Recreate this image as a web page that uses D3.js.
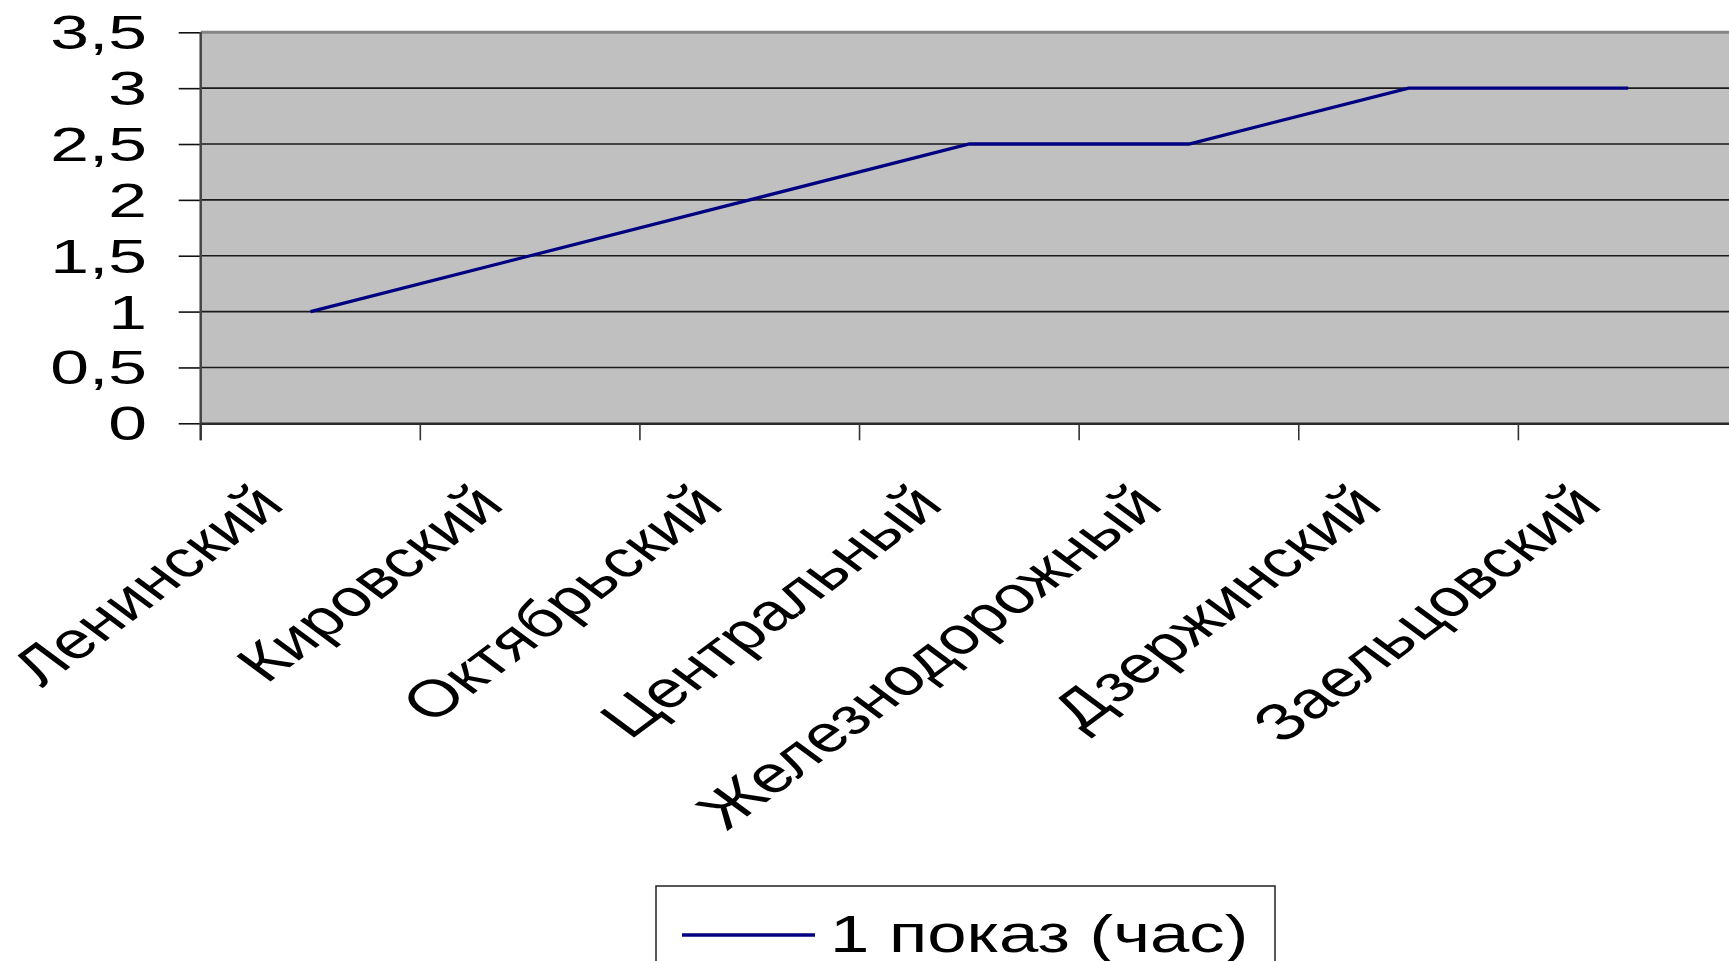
<!DOCTYPE html>
<html>
<head>
<meta charset="utf-8">
<script src="https://cdn.jsdelivr.net/npm/d3@7/dist/d3.min.js"></script>
<style>
  html, body { margin: 0; padding: 0; background: #ffffff; overflow: hidden; }
  svg { display: block; font-family: "Liberation Sans", Arial, sans-serif; }
</style>
</head>
<body>
<svg id="chart" width="1729" height="961"></svg>
<script>
const categories = ["Ленинский", "Кировский", "Октябрьский", "Центральный", "Железнодорожный", "Дзержинский", "Заельцовский"];
const values = [1, 1.5, 2, 2.5, 2.5, 3, 3];
const yTicks = [0, 0.5, 1, 1.5, 2, 2.5, 3, 3.5];
const yTickLabels = ["0", "0,5", "1", "1,5", "2", "2,5", "3", "3,5"];
const seriesName = "1 показ (час)";

const W = 1729, H = 961;
const plot = { left: 200.7, right: 1738, top: 32.3, bottom: 423.3 };

const svg = d3.select("#chart");

const x = d3.scaleBand().domain(categories).range([plot.left, plot.right]).paddingInner(0).paddingOuter(0);
const y = d3.scaleLinear().domain([0, 3.5]).range([plot.bottom, plot.top]);

// plot background
svg.append("rect")
  .attr("x", plot.left).attr("y", plot.top)
  .attr("width", plot.right - plot.left).attr("height", plot.bottom - plot.top)
  .attr("fill", "#c0c0c0");

// gridlines
svg.append("g").selectAll("line")
  .data(yTicks.filter(t => t > 0 && t < 3.5))
  .join("line")
  .attr("x1", plot.left).attr("x2", plot.right)
  .attr("y1", d => y(d)).attr("y2", d => y(d))
  .attr("stroke", "#1a1a1a").attr("stroke-width", 1.6);

// top border
svg.append("line")
  .attr("x1", plot.left).attr("x2", plot.right)
  .attr("y1", y(3.5)).attr("y2", y(3.5))
  .attr("stroke", "#858585").attr("stroke-width", 3);

// y axis ticks
const yAxis = d3.axisLeft(y).tickValues(yTicks).tickSize(22).tickFormat("");
const gy = svg.append("g").attr("transform", `translate(${plot.left},0)`).call(yAxis);
gy.select(".domain").remove();
gy.selectAll(".tick line").attr("stroke", "#111").attr("stroke-width", 1.6);

// left border
svg.append("line")
  .attr("x1", plot.left).attr("x2", plot.left)
  .attr("y1", plot.top).attr("y2", plot.bottom + 17)
  .attr("stroke", "#444").attr("stroke-width", 2.5);

// y labels
svg.append("g").selectAll("text")
  .data(yTicks)
  .join("text")
  .attr("transform", (d) => `translate(147,${y(d) + 17}) scale(1.45,1)`)
  .attr("text-anchor", "end")
  .attr("font-size", 48)
  .attr("fill", "#000")
  .text((d, i) => yTickLabels[i]);

// x axis
const xAxis = d3.axisBottom(x).tickSize(0).tickFormat("");
const gx = svg.append("g").attr("transform", `translate(0,${plot.bottom})`).call(xAxis);
gx.select(".domain").attr("stroke", "#2a2a2a").attr("stroke-width", 2.5);
gx.selectAll(".tick").remove();
svg.append("g").selectAll("line")
  .data(categories)
  .join("line")
  .attr("x1", d => x(d)).attr("x2", d => x(d))
  .attr("y1", plot.bottom).attr("y2", plot.bottom + 17)
  .attr("stroke", "#333").attr("stroke-width", 1.6);

// x labels
svg.append("g").selectAll("text")
  .data(categories)
  .join("text")
  .attr("transform", d => `translate(${x(d) + x.bandwidth() / 2 - 24},507) scale(1.35,1) rotate(-45)`)
  .attr("text-anchor", "end")
  .attr("font-size", 52)
  .attr("fill", "#000")
  .text(d => d);

// series line
const line = d3.line()
  .x((d, i) => x(categories[i]) + x.bandwidth() / 2)
  .y(d => y(d));
svg.append("path")
  .datum(values)
  .attr("d", line)
  .attr("fill", "none")
  .attr("stroke", "#000080")
  .attr("stroke-width", 3.3);

// legend
const lg = svg.append("g");
lg.append("rect")
  .attr("x", 656).attr("y", 886).attr("width", 619).attr("height", 120)
  .attr("fill", "#fff").attr("stroke", "#222").attr("stroke-width", 1.5);
lg.append("line")
  .attr("x1", 682).attr("x2", 815).attr("y1", 935).attr("y2", 935)
  .attr("stroke", "#000080").attr("stroke-width", 3.5);
lg.append("text")
  .attr("transform", "translate(830,952) scale(1.36,1)")
  .attr("font-size", 52)
  .attr("fill", "#000")
  .text(seriesName);
</script>
</body>
</html>
